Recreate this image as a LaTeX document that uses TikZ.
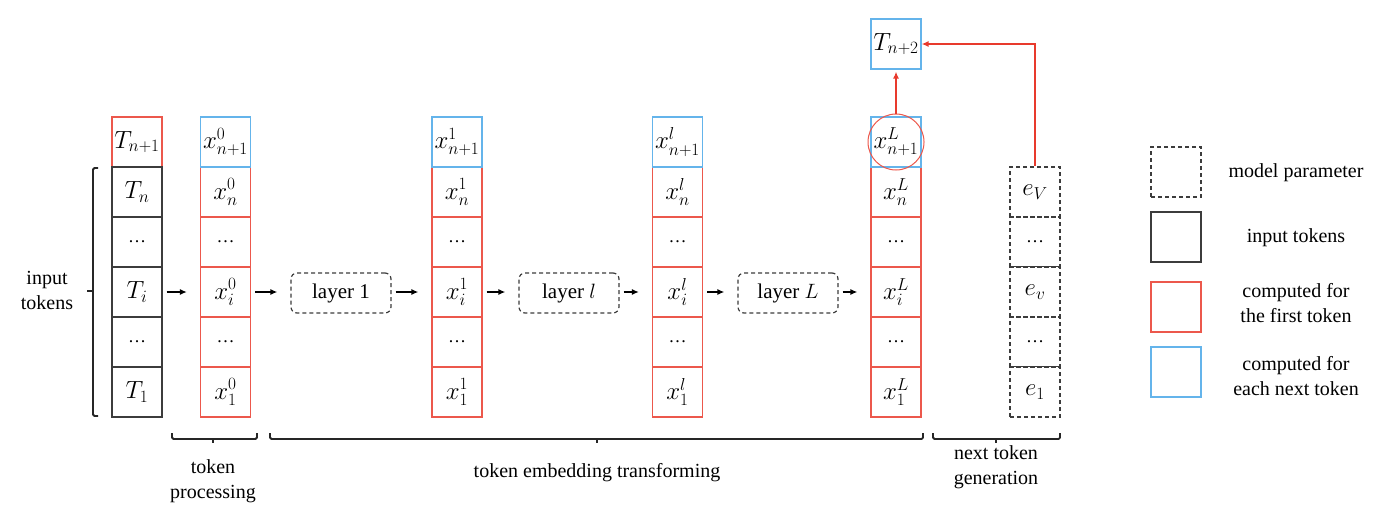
\documentclass[tikz,border=0pt]{standalone}
\usepackage{fontspec}
\setmainfont{Liberation Serif}
\usetikzlibrary{arrows.meta,calc}
\definecolor{cred}{RGB}{236,88,76}
\definecolor{cblue}{RGB}{100,180,235}
\definecolor{cgray}{RGB}{60,60,60}
\definecolor{ared}{RGB}{232,58,45}
\newcommand{\dts}{\rmfamily\fontsize{18}{20}\selectfont …}
\begin{document}
\begin{tikzpicture}[x=1pt,y=-1pt,
 cell/.style={minimum width=50pt,minimum height=50pt,inner sep=0pt,line width=1.2pt,font=\fontsize{23}{26}\selectfont},
 incell/.style={cell,draw=cgray},
 redcell/.style={cell,draw=cred},
 bluecell/.style={cell,draw=cblue},
 parcell/.style={cell,draw=cgray,dash pattern=on 4pt off 3pt},
 layerbox/.style={draw=cgray,dash pattern=on 4pt off 3pt,rounded corners=6pt,minimum width=100pt,minimum height=40pt,line width=1.2pt,font=\rmfamily\fontsize{21}{24}\selectfont},
 flow/.style={-{Latex[length=7pt,width=6pt]},line width=1.8pt,shorten <=4pt,shorten >=13pt},
 redflow/.style={-{Latex[length=7pt,width=6pt]},line width=2.2pt,draw=ared},
 lbl/.style={font=\rmfamily\fontsize{20}{25}\selectfont,align=center},
 brk/.style={line width=1.8pt,rounded corners=1.5pt,black!85}
]
\useasboundingbox (0,0) rectangle (1396,528);

% input token column
\node[redcell] (Tn1) at (137,142) {$T_{n+1}$};
\node[incell] (Tn) at (137,192) {$T_n$};
\node[incell] (Td2) at (137,242) {\dts};
\node[incell] (Ti) at (137,292) {$T_i$};
\node[incell] (Td1) at (137,342) {\dts};
\node[incell] (T1) at (137,392) {$T_1$};

% embedding columns
\foreach \c/\xx/\s in {a/225.5/0, b/457/1, c/677.5/l, d/896/L} {
  \node[redcell] (\c n) at (\xx,192) {$x^{\s}_{n}$};
  \node[redcell] (\c d2) at (\xx,242) {\dts};
  \node[redcell] (\c i) at (\xx,292) {$x^{\s}_{i}$};
  \node[redcell] (\c d1) at (\xx,342) {\dts};
  \node[redcell] (\c 1) at (\xx,392) {$x^{\s}_{1}$};
  \node[bluecell] (\c top) at (\xx,142) {$x^{\s}_{n+1}$};
}

% vocabulary column
\node[parcell] (e5) at (1035,192) {$e_V$};
\node[parcell] (e4) at (1035,242) {\dts};
\node[parcell] (e3) at (1035,292) {$e_v$};
\node[parcell] (e2) at (1035,342) {\dts};
\node[parcell] (e1) at (1035,392) {$e_1$};
\draw[cgray,line width=1.2pt] (e3.north west) -- (e3.north east);
\draw[cgray,line width=1.2pt] (e1.north west) -- (e1.north east);

% layers
\node[layerbox] (L1) at (341,293) {layer 1};
\node[layerbox] (Ll) at (569,293) {layer $l$};
\node[layerbox] (LL) at (788,293) {layer $L$};

\draw[flow] (Ti.east) -- (ai.west);
\draw[flow] (ai.east) -- (L1.west |- ai.east);
\draw[flow] (L1.east |- bi.west) -- (bi.west);
\draw[flow] (bi.east) -- (Ll.west |- bi.east);
\draw[flow] (Ll.east |- ci.west) -- (ci.west);
\draw[flow] (ci.east) -- (LL.west |- ci.east);
\draw[flow] (LL.east |- di.west) -- (di.west);

% output
\node[circle,draw=cred,line width=1pt,minimum size=56pt,inner sep=0pt] (circ) at (dtop) {};
\node[bluecell] (Tn2) at (896,44) {$T_{n+2}$};
\draw[redflow,shorten >=2pt] (circ.north) -- (Tn2.south);
\draw[redflow] (e5.north) |- (Tn2.east);

% brackets
\draw[brk] (98,168) -- (93,168) -- (93,416) -- (98,416);
\draw[brk] (93,291) -- (87,291);
\node[lbl] (lin) at (47,290) {input\\tokens};
\draw[brk] (172,433) -- (172,439) -- (257,439) -- (257,433);
\draw[brk] (213,439) -- (213,443);
\draw[brk] (270,433) -- (270,439) -- (923,439) -- (923,433);
\draw[brk] (597,439) -- (597,443);
\draw[brk] (933,433) -- (933,439) -- (1060,439) -- (1060,433);
\draw[brk] (996,439) -- (996,443);
\node[lbl] (lp) at (213,481) {token\\processing};
\node[lbl] (lt) at (597,473) {token embedding transforming};
\node[lbl] (lg) at (996,467) {next token\\generation};

% legend
\node[parcell] (k1) at (1176,172) {};
\node[incell] (k2) at (1176,237) {};
\node[redcell] (k3) at (1176,307) {};
\node[bluecell] (k4) at (1176,372) {};
\node[lbl] (t1) at (1296,173) {model parameter};
\node[lbl] (t2) at (1296,238) {input tokens};
\node[lbl] (t3) at (1296,303) {computed for\\the first token};
\node[lbl] (t4) at (1296,376) {computed for\\each next token};
\end{tikzpicture}
\end{document}
